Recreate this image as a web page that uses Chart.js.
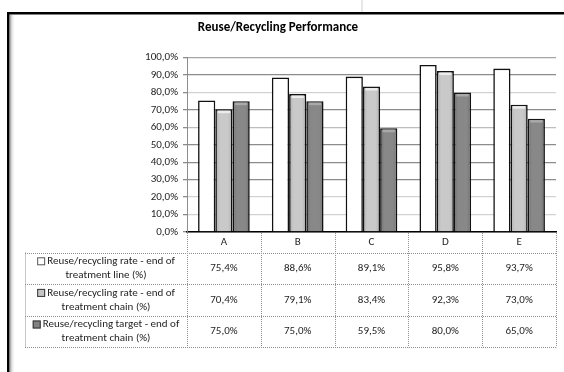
<!DOCTYPE html>
<html>
<head>
<meta charset="utf-8">
<title>Reuse/Recycling Performance</title>
<script src="https://cdn.jsdelivr.net/npm/chart.js@4.4.0/dist/chart.umd.min.js"></script>
<style>
  html, body { margin: 0; padding: 0; background: #fff; }
  canvas { display: block; }
</style>
</head>
<body>
<canvas id="recyclingChart" width="564" height="372"></canvas>
<script>
// Chart data
const categories = ['A', 'B', 'C', 'D', 'E'];
const rateLine = [75.4, 88.6, 89.1, 95.8, 93.7];
const rateChain = [70.4, 79.1, 83.4, 92.3, 73.0];
const targetChain = [75.0, 75.0, 59.5, 80.0, 65.0];
const seriesNames = [
    ['Reuse/recycling rate - end of', 'treatment line (%)'],
    ['Reuse/recycling rate - end of', 'treatment chain (%)'],
    ['Reuse/recycling target - end of', 'treatment chain (%)']
];
const yTickValues = [0, 10, 20, 30, 40, 50, 60, 70, 80, 90, 100];

const FONT = "Carlito, Lato, 'Liberation Sans', sans-serif";
const fillColors = ['#ffffff', '#c6c6c6', '#818181'];
const topShine = [null, '#ececec', '#a9a9a9'];

// Format numbers with a comma as decimal separator
function pct(v) {
    return v.toFixed(1).replace('.', ',') + '%';
}

// Gridline shades alternate a little, like the original export
const gridShades = {
    10: '#d2d2d2', 20: '#d2d2d2', 30: '#8c8c8c', 40: '#8c8c8c', 50: '#8c8c8c',
    60: '#bdbdbd', 70: '#8c8c8c', 80: '#d2d2d2', 90: '#8c8c8c', 100: '#a6a6a6'
};

// Frame and page background
const framePlugin = {
    id: 'frame',
    beforeDraw(chart) {
        const ctx = chart.ctx;
        ctx.save();
        ctx.fillStyle = '#fff';
        ctx.fillRect(0, 0, chart.width, chart.height);
        ctx.fillStyle = '#d0d0d0';
        ctx.fillRect(361.5, 0, 1, 12);
        ctx.fillStyle = '#000';
        ctx.fillRect(7, 12, chart.width - 7, 2.5);
        ctx.fillRect(7, 12, 2.5, chart.height - 12);
        const shades = ['#777', '#aaa', '#d4d4d4', '#ececec'];
        shades.forEach((c, i) => {
            ctx.fillStyle = c;
            ctx.fillRect(9.5 + i, 15, 1, chart.height - 15);
        });
        ctx.restore();
    }
};

// Soft bevel on the grey bars: darker sides and a light strip at the top
const bevelPlugin = {
    id: 'bevel',
    afterDatasetsDraw(chart) {
        const ctx = chart.ctx;
        ctx.save();
        [1, 2].forEach(d => {
            chart.getDatasetMeta(d).data.forEach(bar => {
                const p = bar.getProps(['x', 'y', 'base', 'width'], true);
                const l = p.x - p.width / 2 + 1;
                const w = p.width - 2;
                const t = p.y + 1;
                const h = p.base - t;
                const g = ctx.createLinearGradient(l, 0, l + w, 0);
                g.addColorStop(0, 'rgba(0,0,0,0.10)');
                g.addColorStop(0.25, 'rgba(255,255,255,0.06)');
                g.addColorStop(0.75, 'rgba(255,255,255,0.06)');
                g.addColorStop(1, 'rgba(0,0,0,0.12)');
                ctx.fillStyle = g;
                ctx.fillRect(l, t, w, h);
                ctx.fillStyle = topShine[d];
                ctx.fillRect(l + 1.5, t + 0.5, w - 3, 2.5);
            });
        });
        ctx.restore();
    }
};

// Data table under the plot, aligned with the category axis
const tablePlugin = {
    id: 'dataTable',
    afterDraw(chart) {
        const ctx = chart.ctx;
        const xs = chart.scales.x;
        const area = chart.chartArea;
        const colW = xs.width / categories.length;
        const headerBottom = area.bottom + 20.5;
        const rowH = 31.6;
        const tableLeft = 25;
        const tableBottom = headerBottom + rowH * 3;
        const rows = [rateLine, rateChain, targetChain];

        ctx.save();
        ctx.strokeStyle = '#8f8f8f';
        ctx.lineWidth = 1;
        ctx.setLineDash([1, 1]);

        // vertical separators
        for (let i = 0; i <= categories.length; i++) {
            const x = Math.round(xs.left + i * colW) + 0.5;
            ctx.beginPath();
            ctx.moveTo(x, area.bottom + 1);
            ctx.lineTo(x, tableBottom);
            ctx.stroke();
        }
        ctx.beginPath();
        ctx.moveTo(tableLeft + 0.5, headerBottom);
        ctx.lineTo(tableLeft + 0.5, tableBottom);
        ctx.stroke();

        // horizontal separators
        for (let r = 0; r <= 3; r++) {
            const y = Math.round(headerBottom + r * rowH) + 0.5;
            ctx.beginPath();
            ctx.moveTo(tableLeft, y);
            ctx.lineTo(xs.right + 1, y);
            ctx.stroke();
        }
        ctx.setLineDash([]);

        // category labels
        ctx.fillStyle = '#1e1e1e';
        ctx.font = '11px ' + FONT;
        ctx.textAlign = 'center';
        ctx.textBaseline = 'middle';
        categories.forEach((c, i) => {
            ctx.fillText(c, xs.getPixelForValue(i), area.bottom + 10.5);
        });

        // values
        rows.forEach((vals, r) => {
            const cy = headerBottom + r * rowH + rowH / 2;
            vals.forEach((v, i) => {
                ctx.fillText(pct(v), xs.getPixelForValue(i), cy);
            });
        });

        // series names with their swatches
        const nameCenter = (tableLeft + xs.left) / 2;
        seriesNames.forEach((lines, r) => {
            const cy = headerBottom + r * rowH + rowH / 2;
            const first = lines[0];
            const tw = ctx.measureText(first).width;
            const sw = 8;
            const startX = nameCenter - (tw + sw + 2) / 2;
            const y1 = cy - 7;
            const y2 = cy + 7;
            ctx.fillStyle = fillColors[r];
            ctx.fillRect(startX, y1 - 4, sw, sw);
            ctx.strokeStyle = r === 0 ? '#555' : '#333';
            ctx.lineWidth = 1;
            ctx.strokeRect(startX + 0.5, y1 - 3.5, sw - 1, sw - 1);
            ctx.fillStyle = '#1e1e1e';
            ctx.textAlign = 'left';
            ctx.fillText(first, startX + sw + 2, y1);
            ctx.textAlign = 'center';
            ctx.fillText(lines[1], nameCenter, y2);
        });
        ctx.restore();
    }
};

const ctx = document.getElementById('recyclingChart').getContext('2d');

const recyclingChart = new Chart(ctx, {
    type: 'bar',
    data: {
        labels: categories,
        datasets: [
            {
                label: seriesNames[0].join(' '),
                data: rateLine,
                backgroundColor: fillColors[0],
                borderColor: '#111',
                borderWidth: 1.6
            },
            {
                label: seriesNames[1].join(' '),
                data: rateChain,
                backgroundColor: fillColors[1],
                borderColor: '#111',
                borderWidth: 1.6
            },
            {
                label: seriesNames[2].join(' '),
                data: targetChain,
                backgroundColor: fillColors[2],
                borderColor: '#111',
                borderWidth: 1.6
            }
        ]
    },
    options: {
        responsive: false,
        animation: false,
        categoryPercentage: 0.7,
        barPercentage: 1.0,
        layout: {
            padding: { left: 0, right: 8, top: 0, bottom: 0 }
        },
        scales: {
            x: {
                ticks: { display: false },
                grid: { display: false },
                border: { color: '#000', width: 1.5 },
                afterFit(scale) {
                    scale.height = 140;
                }
            },
            y: {
                min: 0,
                max: 100,
                afterBuildTicks(scale) {
                    scale.ticks = yTickValues.map(v => ({ value: v }));
                },
                ticks: {
                    color: '#1e1e1e',
                    padding: 5,
                    font: { family: FONT, size: 11 },
                    callback: v => pct(v)
                },
                grid: {
                    color: c => gridShades[c.tick.value] || '#8c8c8c',
                    tickColor: '#8c8c8c',
                    tickLength: 4,
                    lineWidth: 1.3
                },
                border: { color: '#8c8c8c', width: 1 },
                afterFit(scale) {
                    scale.width = 187;
                }
            }
        },
        plugins: {
            legend: { display: false },
            tooltip: { enabled: false },
            title: {
                display: true,
                text: 'Reuse/Recycling Performance',
                color: '#000',
                font: { family: FONT, size: 13, weight: 'bold' },
                padding: { top: 20, bottom: 22 }
            }
        }
    },
    plugins: [framePlugin, bevelPlugin, tablePlugin]
});
</script>
</body>
</html>
